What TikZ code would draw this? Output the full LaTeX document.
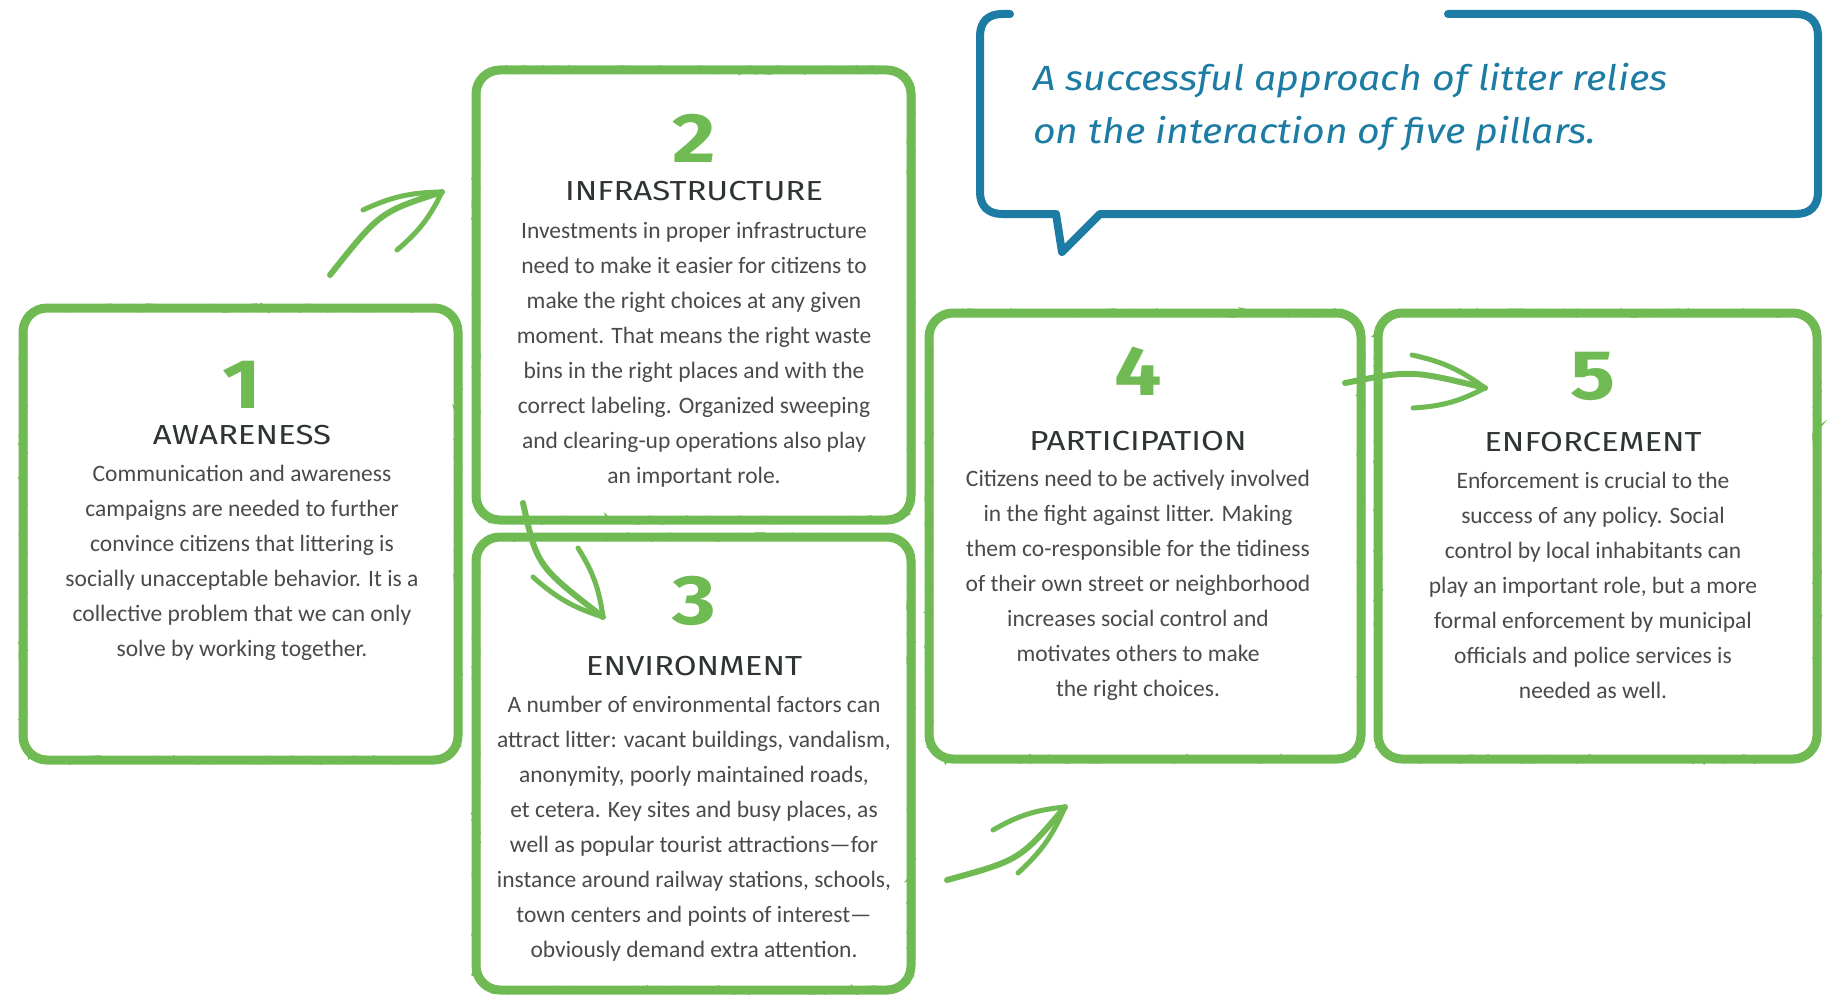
\documentclass[tikz,border=0pt]{standalone}
\usepackage{fontspec}
\usetikzlibrary{decorations.pathmorphing}
\setmainfont{Carlito}
\newfontfamily\headfont[FakeStretch=1.2]{Fira Sans}
\newfontfamily\numfont[FakeStretch=1.2]{Fira Sans}
\newfontfamily\notefont[FakeStretch=1.12]{Fira Sans}
\definecolor{leaf}{RGB}{111,186,82}
\definecolor{sea}{RGB}{28,124,164}
\definecolor{ink}{RGB}{74,74,74}
\definecolor{headink}{RGB}{46,52,52}
\begin{document}
\begin{tikzpicture}[x=1pt,y=-1pt,
  pillarbox/.style={draw=leaf, line width=9pt, rounded corners=24pt, inner sep=0,
    postaction={draw=leaf, line width=3pt, transform canvas={xshift=2.5pt,yshift=1.5pt}},
    postaction={draw=leaf, line width=2.5pt, transform canvas={xshift=-2pt,yshift=-2pt}},
    postaction={draw=leaf, line width=2.5pt, sharp corners, decorate,
      decoration={random steps, segment length=5pt, amplitude=3.5pt}}},
  numlabel/.style={font=\numfont\bfseries\fontsize{70}{70}\selectfont, text=leaf, inner sep=0},
  headlabel/.style={font=\headfont\fontsize{27.5}{30}\selectfont, text=headink, inner sep=0},
  bodytext/.style={font=\fontsize{23.5}{35}\selectfont, text=ink, align=center, inner sep=0, anchor=north},
  shaft/.style={draw=leaf, line width=6pt, line cap=round},
  barb/.style={draw=leaf, line width=5pt, line cap=round},
  bubblestroke/.style={draw=sea, line width=8pt, line join=round, line cap=round},
]
\pgfmathsetseed{7}
\useasboundingbox[fill=white] (0,0) rectangle (1830,995);

% the five pillar frames
\node[pillarbox, minimum width=435pt, minimum height=452pt] (b1) at (240.5,534) {};
\node[pillarbox, minimum width=435pt, minimum height=450pt] (b2) at (693.5,295) {};
\node[pillarbox, minimum width=435pt, minimum height=453pt] (b3) at (693.5,763.5) {};
\node[pillarbox, minimum width=432pt, minimum height=446pt] (b4) at (1145,536) {};
\node[pillarbox, minimum width=439pt, minimum height=446pt] (b5) at (1597.5,536) {};

% pillar 1
\node[numlabel] (n1) at (242,385) {1};
\node[headlabel] (h1) at (242,435) {AWARENESS};
\node[bodytext] (t1) at (242,465) {Communication and awareness\\
campaigns are needed to further\\
convince citizens that littering is\\
socially unacceptable behavior. It is a\\
collective problem that we can only\\
solve by working together.};

% pillar 2
\node[numlabel] (n2) at (694,138) {2};
\node[headlabel] (h2) at (694,191) {INFRASTRUCTURE};
\node[bodytext] (t2) at (694,222) {Investments in proper infrastructure\\
need to make it easier for citizens to\\
make the right choices at any given\\
moment. That means the right waste\\
bins in the right places and with the\\
correct labeling. Organized sweeping\\
and clearing-up operations also play\\
an important role.};

% pillar 3
\node[numlabel] (n3) at (694,601) {3};
\node[headlabel] (h3) at (694,666) {ENVIRONMENT};
\node[bodytext] (t3) at (694,696) {A number of environmental factors can\\
attract litter: vacant buildings, vandalism,\\
anonymity, poorly maintained roads,\\
et cetera. Key sites and busy places, as\\
well as popular tourist attractions—for\\
instance around railway stations, schools,\\
town centers and points of interest—\\
obviously demand extra attention.};

% pillar 4
\node[numlabel] (n4) at (1138,371) {4};
\node[headlabel] (h4) at (1138,441) {PARTICIPATION};
\node[bodytext] (t4) at (1138,470) {Citizens need to be actively involved\\
in the fight against litter. Making\\
them co-responsible for the tidiness\\
of their own street or neighborhood\\
increases social control and\\
motivates others to make\\
the right choices.};

% pillar 5
\node[numlabel] (n5) at (1593,376) {5};
\node[headlabel] (h5) at (1593,442) {ENFORCEMENT};
\node[bodytext] (t5) at (1593,472) {Enforcement is crucial to the\\
success of any policy. Social\\
control by local inhabitants can\\
play an important role, but a more\\
formal enforcement by municipal\\
officials and police services is\\
needed as well.};

% hand-drawn arrows between the pillars
\coordinate (a1s) at (330,275); \coordinate (a1t) at (442,192);
\coordinate (a1l) at (363,210); \coordinate (a1r) at (397,250);
\draw[shaft] (a1s) .. controls (380,212) .. (a1t);
\draw[barb] (a1t) to[bend right=12] (a1l);
\draw[barb] (a1t) to[bend left=12] (a1r);

\coordinate (a2s) at (523,503); \coordinate (a2t) at (603,617);
\coordinate (a2l) at (533,577); \coordinate (a2r) at (578,548);
\draw[shaft] (a2s) .. controls (537,566) .. (a2t);
\draw[barb] (a2t) to[bend left=12] (a2l);
\draw[barb] (a2t) to[bend right=12] (a2r);

\coordinate (a3s) at (947,880); \coordinate (a3t) at (1065,807);
\coordinate (a3l) at (993,830); \coordinate (a3r) at (1018,873);
\draw[shaft] (a3s) .. controls (1020,860) .. (a3t);
\draw[barb] (a3t) to[bend right=12] (a3l);
\draw[barb] (a3t) to[bend left=12] (a3r);

\coordinate (a4s) at (1345,383); \coordinate (a4t) at (1485,388);
\coordinate (a4l) at (1412,355); \coordinate (a4r) at (1413,408);
\draw[shaft] (a4s) .. controls (1411,370) .. (a4t);
\draw[barb] (a4t) to[bend right=12] (a4l);
\draw[barb] (a4t) to[bend left=12] (a4r);

% speech bubble
\draw[bubblestroke] (1010,14) -- (1002,14) .. controls (988,14) and (980,22) .. (980,36)
  -- (980,192) .. controls (980,206) and (988,214) .. (1002,214)
  -- (1056,214) -- (1062,252) -- (1100,214)
  -- (1796,214) .. controls (1810,214) and (1818,206) .. (1818,192)
  -- (1818,36) .. controls (1818,22) and (1810,14) .. (1796,14) -- (1448,14);
\node[font=\notefont\itshape\fontsize{35}{53}\selectfont, text=sea, align=left,
  anchor=north west, inner sep=0] (quote) at (1033,63)
  {A successful approach of litter relies\\ on the interaction of five pillars.};
\end{tikzpicture}
\end{document}
